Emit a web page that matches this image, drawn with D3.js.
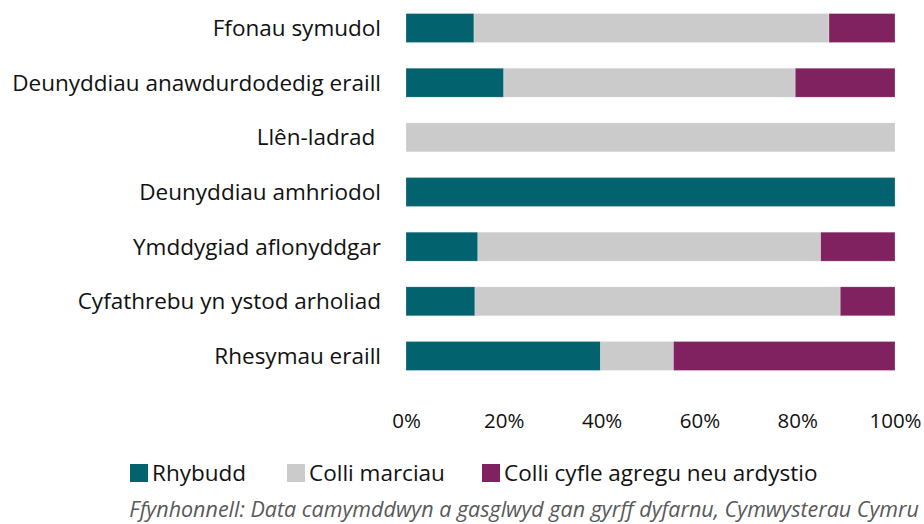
<!DOCTYPE html>
<html lang="cy">
<head>
    <meta charset="utf-8">
    <title>Camymddwyn - canlyniadau</title>
    <script type="text/javascript" src="https://cdn.jsdelivr.net/npm/d3@7"></script>
    <style type="text/css">
        body { margin: 0; background: #fff; }
        text { font-family: "Open Sans", "Noto Sans", sans-serif; fill: #111; white-space: pre; }
    </style>
</head>
<body>
    <script type="text/javascript">

        //Data
        var categories = ["Ffonau symudol", "Deunyddiau anawdurdodedig eraill", "Llên-ladrad ",
            "Deunyddiau amhriodol", "Ymddygiad aflonyddgar", "Cyfathrebu yn ystod arholiad", "Rhesymau eraill"];
        var seriesNames = ["Rhybudd", "Colli marciau", "Colli cyfle agregu neu ardystio"];
        var rhybudd = [13.9, 20, 0, 100, 14.7, 14.1, 39.8];
        var colliMarciau = [72.6, 59.6, 100, 0, 70.1, 74.7, 14.9];
        var colliCyfle = [13.5, 20.4, 0, 0, 15.2, 11.2, 45.3];
        var tickValues = [0, 20, 40, 60, 80, 100];
        var colours = ["#02636f", "#cbcbcb", "#80225f"];
        var sourceText = "Ffynhonnell: Data camymddwyn a gasglwyd gan gyrff dyfarnu, Cymwysterau Cymru";

        //Width and height
        var w = 924;
        var h = 524;

        var table = categories.map(function (c, i) {
            return { cat: c, a: rhybudd[i], b: colliMarciau[i], c: colliCyfle[i] };
        });
        var stack = d3.stack().keys(["a", "b", "c"])(table);

        var x = d3.scaleLinear().domain([0, 100]).range([406, 895]);
        var y = d3.scaleBand().domain(categories).range([0.7, 383.3]).paddingInner(0.47).paddingOuter(0.235);

        var svg = d3.select("body")
            .append("svg")
            .attr("width", w)
            .attr("height", h);

        //Bars
        svg.selectAll("g.series")
            .data(stack)
            .enter()
            .append("g")
            .attr("class", "series")
            .attr("fill", function (d, i) { return colours[i]; })
            .selectAll("rect")
            .data(function (d) { return d; })
            .enter()
            .append("rect")
            .attr("x", function (d) { return x(d[0]); })
            .attr("width", function (d) { return x(d[1]) - x(d[0]); })
            .attr("y", function (d) { return y(d.data.cat); })
            .attr("height", y.bandwidth())
            .attr("stroke", "#fff")
            .attr("stroke-opacity", 0.4)
            .attr("stroke-width", 0.6);

        //Category labels
        var yAxis = d3.axisLeft(y).tickSize(0).tickPadding(0);
        var gy = svg.append("g")
            .attr("transform", "translate(381,0)")
            .call(yAxis);
        gy.select(".domain").remove();
        gy.selectAll("text")
            .style("font-size", "22.5px")
            .attr("dy", "0.35em");

        //Percentage axis
        var xAxis = d3.axisBottom(x)
            .tickValues(tickValues)
            .tickSize(0)
            .tickPadding(0)
            .tickFormat(function (d) { return d + "%"; });
        var gx = svg.append("g")
            .attr("transform", "translate(0,413)")
            .call(xAxis);
        gx.select(".domain").remove();
        gx.selectAll("text")
            .style("font-size", "20.5px")
            .attr("dy", "0.71em");

        //Legend
        var legendX = [130, 287, 482];
        var legend = svg.selectAll("g.legend")
            .data(seriesNames)
            .enter()
            .append("g")
            .attr("class", "legend")
            .attr("transform", function (d, i) { return "translate(" + legendX[i] + ",464)"; });
        legend.append("rect")
            .attr("width", 18)
            .attr("height", 18)
            .attr("fill", function (d, i) { return colours[i]; });
        legend.append("text")
            .attr("x", 22)
            .attr("y", 9)
            .attr("dy", "0.35em")
            .style("font-size", "22.5px")
            .text(function (d) { return d; });

        //Source
        svg.append("text")
            .attr("x", 919)
            .attr("y", 517)
            .attr("text-anchor", "end")
            .style("font-size", "21.5px")
            .style("font-style", "italic")
            .style("fill", "#595959")
            .text(sourceText);

    </script>
</body>
</html>
